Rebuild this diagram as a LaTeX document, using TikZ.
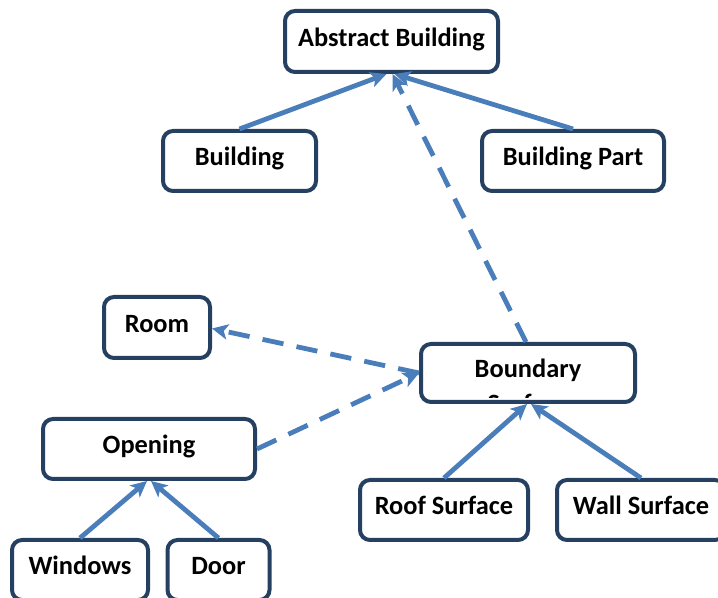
\documentclass[tikz,border=0pt]{standalone}
\usepackage{fontspec}
\setmainfont{Carlito}
\usetikzlibrary{arrows.meta,calc}
\definecolor{navy}{HTML}{254061}
\definecolor{conblue}{HTML}{4A7EBB}
\tikzset{
  box/.style={draw=navy, line width=3pt, rounded corners=7.5pt, fill=white,
    font=\fontsize{19.8}{23.8}\selectfont\bfseries, text=black,
    text height=12pt, text depth=4.5pt, inner sep=0pt},
  conn/.style={draw=conblue, line width=3.6pt,
    -{Stealth[length=12pt,width=11.5pt,inset=3pt]}},
  dconn/.style={conn, dash pattern=on 16pt off 10pt}
}
\begin{document}
\begin{tikzpicture}[x=0.75pt,y=-0.75pt]
\useasboundingbox (0,0) rectangle (718,598);
\clip (0,0) rectangle (718,598);
% nodes
\node[box, minimum width=159.75pt, minimum height=45.75pt] (abs) at (391.5,41.5) {Abstract Building};
\node[box, minimum width=114.75pt, minimum height=45pt] (bld) at (239.5,161) {Building};
\node[box, minimum width=136.5pt, minimum height=45pt] (bpart) at (573,161) {Building Part};
\node[box, minimum width=79.5pt, minimum height=45.75pt] (room) at (157,327.5) {Room};
\node[box, minimum width=160.5pt, minimum height=43.5pt] (bnd) at (528,373) {Boundary};
\begin{scope}
  \clip (423,346) rectangle (633,398);
  \node[font=\fontsize{19.8}{23.8}\selectfont\bfseries, anchor=base, inner sep=0pt] (bndsurf) at (528,413) {Surface};
\end{scope}
\node[box, minimum width=159pt, minimum height=45pt] (open) at (149,449) {Opening};
\node[box, minimum width=102pt, minimum height=45pt] (win) at (80,570) {Windows};
\node[box, minimum width=76.5pt, minimum height=45pt] (door) at (218.5,570) {Door};
\node[box, minimum width=126pt, minimum height=45pt] (roof) at (444,510) {Roof Surface};
\node[box, minimum width=126pt, minimum height=45pt] (wall) at (641,510) {Wall Surface};
% connectors
\draw[conn] (bld.north) -- ($(abs.south)+(-5,0)$);
\draw[conn] (bpart.north) -- ($(abs.south)+(3,0)$);
\draw[dconn] ($(bnd.north)+(-2,0)$) -- ($(abs.south)+(1,0)$);
\draw[dconn] (bnd.west) -- ($(room.east)+(0,1)$);
\draw[dconn] (open.east) -- (bnd.west);
\draw[conn] (roof.north) -- ($(bnd.south)+(-1,0)$);
\draw[conn] (wall.north) -- ($(bnd.south)+(3,0)$);
\draw[conn] (win.north) -- ($(open.south)+(-2,0)$);
\draw[conn] (door.north) -- ($(open.south)+(2,0)$);
\end{tikzpicture}
\end{document}
